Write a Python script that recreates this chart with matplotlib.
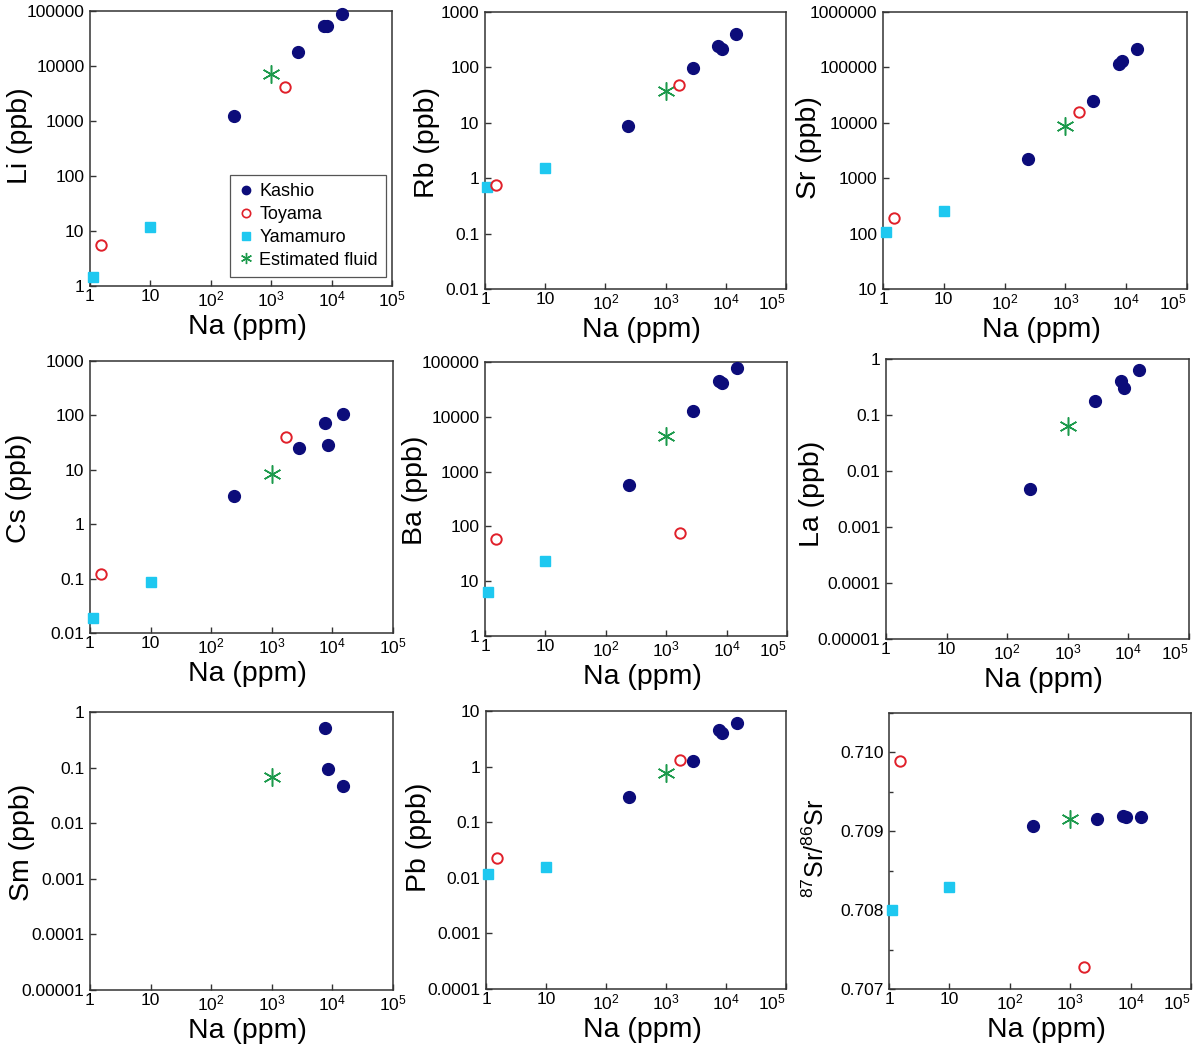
import numpy as np
import matplotlib
matplotlib.use("Agg")
import matplotlib.pyplot as plt
from matplotlib.ticker import FixedLocator, FixedFormatter, NullLocator, MultipleLocator
from matplotlib.lines import Line2D

plt.rcParams['font.family'] = ['Liberation Sans', 'DejaVu Sans']
plt.rcParams['mathtext.fontset'] = 'custom'
plt.rcParams['mathtext.rm'] = 'Liberation Sans'
plt.rcParams['mathtext.it'] = 'Liberation Sans:italic'
plt.rcParams['mathtext.default'] = 'regular'

nan = np.nan

# Na (ppm) for each group
na_kashio = [240, 2800, 7500, 8500, 15000]
na_toyama = [1.5, 1700]
na_yamamuro = [1.1, 10]
na_fluid = [1000]

# element concentrations (ppb) / isotope ratio, same order as Na arrays
li_kashio = [1230, 17700, 53000, 53500, 90000]
li_toyama = [5.5, 4150]
li_yamamuro = [1.45, 11.7]
li_fluid = [7200]

rb_kashio = [8.8, 99, 244, 212, 405]
rb_toyama = [0.76, 48]
rb_yamamuro = [0.69, 1.52]
rb_fluid = [37]

sr_kashio = [2200, 24600, 115000, 132000, 211000]
sr_toyama = [195, 15400]
sr_yamamuro = [107, 257]
sr_fluid = [8900]

cs_kashio = [3.3, 25, 72, 28, 106]
cs_toyama = [0.124, 40]
cs_yamamuro = [0.019, 0.086]
cs_fluid = [8.3]

ba_kashio = [560, 12600, 45700, 40800, 76700]
ba_toyama = [59, 75]
ba_yamamuro = [6.3, 23.6]
ba_fluid = [4500]

la_kashio = [0.0048, 0.175, 0.41, 0.30, 0.64]
la_fluid = [0.064]

sm_kashio = [nan, nan, 0.51, 0.093, 0.046]
sm_fluid = [0.069]

pb_kashio = [0.286, 1.25, 4.5, 4.1, 6.2]
pb_toyama = [0.023, 1.34]
pb_yamamuro = [0.0117, 0.0159]
pb_fluid = [0.77]

srr_kashio = [0.709072, 0.709152, 0.70919, 0.709186, 0.709186]
srr_toyama = [0.709886, 0.707283]
srr_yamamuro = [0.708008, 0.708295]
srr_fluid = [0.709156]

x_ticks = [1, 10, 100, 1000, 10000, 100000]
x_ticklabels = ['1', '10', '$10^2$', '$10^3$', '$10^4$', '$10^5$']
ratio_ticks = [0.707, 0.708, 0.709, 0.710]

# label, kashio, toyama, yamamuro, fluid, ylim
panels = [
    ('Li (ppb)', li_kashio, li_toyama, li_yamamuro, li_fluid, (1, 1e5)),
    ('Rb (ppb)', rb_kashio, rb_toyama, rb_yamamuro, rb_fluid, (0.01, 1e3)),
    ('Sr (ppb)', sr_kashio, sr_toyama, sr_yamamuro, sr_fluid, (10, 1e6)),
    ('Cs (ppb)', cs_kashio, cs_toyama, cs_yamamuro, cs_fluid, (0.01, 1e3)),
    ('Ba (ppb)', ba_kashio, ba_toyama, ba_yamamuro, ba_fluid, (1, 1e5)),
    ('La (ppb)', la_kashio, None, None, la_fluid, (1e-5, 1)),
    ('Sm (ppb)', sm_kashio, None, None, sm_fluid, (1e-5, 1)),
    ('Pb (ppb)', pb_kashio, pb_toyama, pb_yamamuro, pb_fluid, (1e-4, 10)),
    ('$^{87}$Sr/$^{86}$Sr', srr_kashio, srr_toyama, srr_yamamuro, srr_fluid, (0.707, 0.7105)),
]

# axes boxes in pixels (left, top, right, bottom), ylabel position in axes coords
boxes = [
    (90, 11, 392, 286), (485, 12, 786, 289), (883, 12, 1187, 289),
    (90, 361, 393, 633), (485, 362, 787, 636), (886, 359, 1189, 639),
    (90, 712, 393, 990), (486, 711, 786, 989), (889, 713, 1191, 989),
]
label_x = [-0.19, -0.15, -0.20, -0.19, -0.19, -0.20, -0.18, -0.18, -0.20]
label_y = [0.547, 0.529, 0.511, 0.533, 0.533, 0.518, 0.532, 0.547, 0.511]

navy = '#0c0c7a'
red = '#e0202a'
cyan = '#1ec8f0'
green = '#1c9a4c'

W, H = 1200, 1048
fig = plt.figure(figsize=(W / 100, H / 100), dpi=100)

for i, ((ylab, kas, toy, yam, flu, ylim), (l, t, r, b), lx, ly) in enumerate(
        zip(panels, boxes, label_x, label_y)):
    ax = fig.add_axes([l / W, 1 - b / H, (r - l) / W, (b - t) / H])
    ax.set_xscale('log')
    ratio = ylab.startswith('$')
    if not ratio:
        ax.set_yscale('log')
    if yam is not None:
        ax.plot(na_yamamuro, yam, 's', color=cyan, ms=7, mec=cyan, clip_on=False, zorder=3)
    if toy is not None:
        ax.plot(na_toyama, toy, 'o', mfc='white', mec=red, mew=1.4, ms=7.5, clip_on=False, zorder=4)
    ax.plot(na_kashio, kas, 'o', color=navy, ms=8.5, mec=navy, clip_on=False, zorder=3)
    ax.plot(na_fluid, flu, marker=(6, 2, 0), ls='none', color=green, mec=green, mew=1.1, ms=13,
            clip_on=False, zorder=3)

    ax.set_xlim(1, 1e5)
    ax.set_ylim(*ylim)
    ax.xaxis.set_major_locator(FixedLocator(x_ticks))
    ax.xaxis.set_major_formatter(FixedFormatter(x_ticklabels))
    ax.xaxis.set_minor_locator(NullLocator())
    if ratio:
        ax.yaxis.set_major_locator(FixedLocator(ratio_ticks))
        ax.yaxis.set_major_formatter(FixedFormatter(['%.3f' % v for v in ratio_ticks]))
        ax.yaxis.set_minor_locator(MultipleLocator(0.0005))
    else:
        yt = [10.0 ** k for k in range(int(round(np.log10(ylim[0]))), int(round(np.log10(ylim[1]))) + 1)]
        ax.yaxis.set_major_locator(FixedLocator(yt))
        ax.yaxis.set_major_formatter(FixedFormatter(
            [np.format_float_positional(v, trim='-') for v in yt]))
        ax.yaxis.set_minor_locator(NullLocator())

    ax.tick_params(which='both', direction='in', top=False, right=False, length=4, width=1,
                   labelsize=12.5, color='#333333')
    ax.tick_params(axis='x', pad=2.5)
    ax.tick_params(axis='y', pad=4)
    ax.tick_params(which='minor', length=3)
    for s in ax.spines.values():
        s.set_color('#333333')
        s.set_linewidth(1.1)

    # last x tick label sits flush with the right frame except in the left column
    last = ax.get_xticklabels()[-1]
    last.set_ha('center' if i % 3 == 0 else 'right')

    ax.set_xlabel('Na (ppm)', fontsize=20.5, labelpad=3)
    ax.xaxis.label.set_x(0.52)
    ax.set_ylabel(ylab, fontsize=18 if ratio else 20.5)
    ax.yaxis.set_label_coords(lx, ly)

    if ylab.startswith('Li'):
        handles = [
            Line2D([], [], ls='none', marker='o', color=navy, ms=6),
            Line2D([], [], ls='none', marker='o', mfc='white', mec=red, mew=1.2, ms=6),
            Line2D([], [], ls='none', marker='s', color=cyan, ms=6),
            Line2D([], [], ls='none', marker=(6, 2, 0), color=green, mew=1.0, ms=8),
        ]
        leg = ax.legend(handles, ['Kashio', 'Toyama', 'Yamamuro', 'Estimated fluid'],
                        loc='lower right', bbox_to_anchor=(0.98, 0.033), borderaxespad=0,
                        fontsize=13, fancybox=False, edgecolor='#555555', framealpha=1,
                        handlelength=0.8, handletextpad=0.35, labelspacing=0.32,
                        borderpad=0.45)
        leg.get_frame().set_linewidth(0.9)

fig.savefig('out.png', dpi=100)
